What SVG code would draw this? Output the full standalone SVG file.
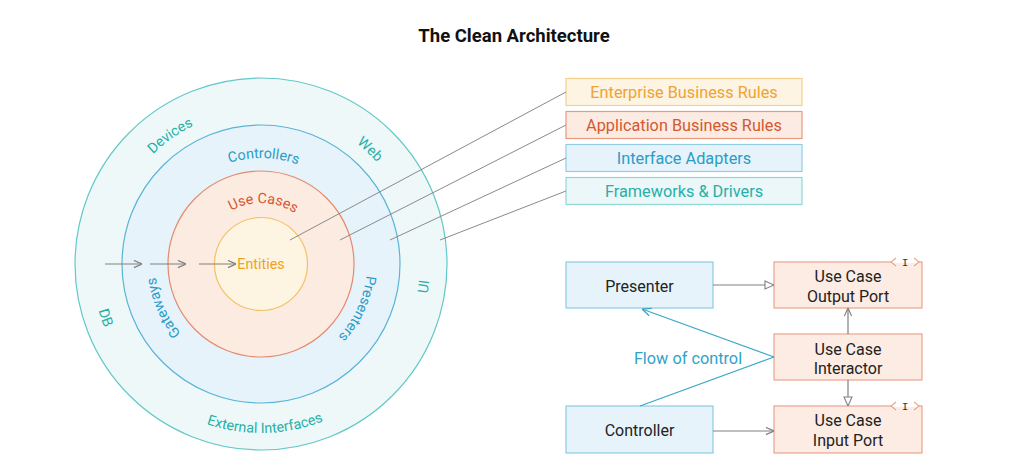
<svg xmlns="http://www.w3.org/2000/svg" width="1024" height="474" viewBox="0 0 1024 474">
<style>
text{font-family:Roboto,"Liberation Sans",sans-serif}
.title{font-size:18.5px;font-weight:bold;fill:#111}
.ring{font-size:14.3px}
.teal{fill:#26b0a8}
.blue{fill:#2b9cc7}
.red{fill:#d4592f}
.orange{fill:#f0a21e}
.leg{font-size:16.3px;text-anchor:middle}
.box{font-size:16px;fill:#222;text-anchor:middle}
.lead{stroke:#8a8a8a;stroke-width:1;fill:none}
.arr{stroke:#808080;stroke-width:1.2;fill:none}
.flow{stroke:#3aa7c9;stroke-width:1.2;fill:none}
.bb{fill:#e6f3fa;stroke:#8dcbe2;stroke-width:1.2}
.pb{fill:#fcece3;stroke:#e9a48c;stroke-width:1.2}
.tag{font-family:"Liberation Mono","DejaVu Sans Mono",monospace;font-size:11px;fill:#333;text-anchor:middle}
</style>
<defs>
<marker id="openV" viewBox="0 0 10 10" refX="10" refY="5" markerWidth="9" markerHeight="9" markerUnits="userSpaceOnUse" orient="auto"><path d="M1,1 L10,5 L1,9" fill="none" stroke="#808080" stroke-width="1.3"/></marker>
<marker id="openVT" viewBox="0 0 10 10" refX="10" refY="5" markerWidth="10" markerHeight="10" markerUnits="userSpaceOnUse" orient="auto"><path d="M1,1 L10,5 L1,9" fill="none" stroke="#3aa7c9" stroke-width="1.3"/></marker>
<marker id="tri" viewBox="0 0 10 10" refX="10" refY="5" markerWidth="10" markerHeight="10" markerUnits="userSpaceOnUse" orient="auto"><path d="M1,1 L10,5 L1,9 Z" fill="#fff" stroke="#808080" stroke-width="1.1"/></marker>
<path id="cwIn" d="M261,325 A61,61 0 0 1 261,203 A61,61 0 0 1 261,325"/>
<path id="cwMid" d="M261,370 A106,106 0 0 1 261,158 A106,106 0 0 1 261,370"/>
<path id="cwOut" d="M261,418 A154,154 0 0 1 261,110 A154,154 0 0 1 261,418"/>
<path id="ccwOut" d="M261,95 A169,169 0 0 0 261,433 A169,169 0 0 0 261,95"/>
</defs>
<rect width="1024" height="474" fill="#fff"/>
<text class="title" x="514" y="42" text-anchor="middle">The Clean Architecture</text>

<g id="frameworks-drivers">
<circle cx="261" cy="264" r="186" fill="#eef8f9" stroke="#62c8c8" stroke-width="1.2"/>
</g>
<g id="interface-adapters">
<circle cx="261" cy="264" r="139" fill="#e6f3fa" stroke="#5ab4d6" stroke-width="1.2"/>
</g>
<g id="use-cases">
<circle cx="261" cy="264" r="93" fill="#fcebe1" stroke="#e38b70" stroke-width="1.2"/>
</g>
<g id="entities">
<circle cx="261" cy="264" r="46.5" fill="#fdf4e2" stroke="#f2c265" stroke-width="1.2"/>
<text class="ring orange" x="261" y="269" text-anchor="middle">Entities</text>
</g>
<g id="ring-labels">
<text class="ring red" text-anchor="middle"><textPath href="#cwIn" startOffset="50.6%">Use Cases</textPath></text>
<text class="ring blue" text-anchor="middle"><textPath href="#cwMid" startOffset="50.4%">Controllers</textPath></text>
<text class="ring blue" text-anchor="middle"><textPath href="#cwMid" startOffset="18.3%">Gateways</textPath></text>
<text class="ring blue" text-anchor="middle"><textPath href="#cwMid" startOffset="81.9%">Presenters</textPath></text>
<text class="ring teal" text-anchor="middle"><textPath href="#cwOut" startOffset="40.2%">Devices</textPath></text>
<text class="ring teal" text-anchor="middle"><textPath href="#cwOut" startOffset="62.1%">Web</textPath></text>
<text class="ring teal" text-anchor="middle"><textPath href="#ccwOut" startOffset="30.3%">DB</textPath></text>
<text class="ring teal" text-anchor="middle"><textPath href="#ccwOut" startOffset="50.4%">External Interfaces</textPath></text>
<text class="ring teal" text-anchor="middle"><textPath href="#ccwOut" startOffset="72.8%">UI</textPath></text>
</g>

<g id="legend-enterprise">
<rect x="566" y="78.5" width="236" height="27" fill="#fdf4e3" stroke="#f6cf8c" stroke-width="1.2"/>
<text class="leg" x="684" y="97.5" fill="#f0a330">Enterprise Business Rules</text>
</g>
<g id="legend-application">
<rect x="566" y="111.5" width="236" height="27" fill="#fcebe2" stroke="#e9997d" stroke-width="1.2"/>
<text class="leg" x="684" y="130.5" fill="#d4592f">Application Business Rules</text>
</g>
<g id="legend-adapters">
<rect x="566" y="144.5" width="236" height="27" fill="#e6f3fa" stroke="#93cde3" stroke-width="1.2"/>
<text class="leg" x="684" y="163.5" fill="#2b9cc7">Interface Adapters</text>
</g>
<g id="legend-frameworks">
<rect x="566" y="177.5" width="236" height="27" fill="#ebf7f8" stroke="#8fd8d6" stroke-width="1.2"/>
<text class="leg" x="684" y="196.5" fill="#26b0a8">Frameworks &amp; Drivers</text>
</g>

<g id="presenter">
<rect class="bb" x="566" y="262" width="147" height="46"/>
<text class="box" x="639.5" y="291.5">Presenter</text>
</g>
<g id="controller">
<rect class="bb" x="566" y="406" width="147" height="47"/>
<text class="box" x="639.5" y="436">Controller</text>
</g>
<g id="output-port">
<rect class="pb" x="774" y="262" width="148" height="46"/>
<line x1="892" y1="262" x2="918" y2="262" stroke="#fff" stroke-width="2"/>
<polyline points="896,258 891,262 896,266" fill="none" stroke="#e9a48c" stroke-width="1.1"/>
<polyline points="914,258 919,262 914,266" fill="none" stroke="#e9a48c" stroke-width="1.1"/>
<text class="tag" x="905" y="266">I</text>
<text class="box" x="848" y="282">Use Case</text>
<text class="box" x="848" y="301.5">Output Port</text>
</g>
<g id="interactor">
<rect class="pb" x="774" y="334" width="148" height="46"/>
<text class="box" x="848" y="354.5">Use Case</text>
<text class="box" x="848" y="373.5">Interactor</text>
</g>
<g id="input-port">
<rect class="pb" x="774" y="406" width="148" height="47"/>
<line x1="892" y1="406" x2="918" y2="406" stroke="#fff" stroke-width="2"/>
<polyline points="896,402 891,406 896,410" fill="none" stroke="#e9a48c" stroke-width="1.1"/>
<polyline points="914,402 919,406 914,410" fill="none" stroke="#e9a48c" stroke-width="1.1"/>
<text class="tag" x="905" y="410">I</text>
<text class="box" x="848" y="426">Use Case</text>
<text class="box" x="848" y="446">Input Port</text>
</g>

<g id="connectors">
<line class="arr" x1="105" y1="264" x2="142" y2="264" marker-end="url(#openV)"/>
<line class="arr" x1="150" y1="264" x2="186" y2="264" marker-end="url(#openV)"/>
<line class="arr" x1="199" y1="264" x2="236" y2="264" marker-end="url(#openV)"/>
<line class="lead" x1="290" y1="240" x2="566" y2="92"/>
<line class="lead" x1="340" y1="240" x2="566" y2="125"/>
<line class="lead" x1="390" y1="240" x2="566" y2="158"/>
<line class="lead" x1="440" y1="240" x2="566" y2="191"/>
<line class="arr" x1="713" y1="285" x2="774" y2="285" marker-end="url(#tri)"/>
<line class="arr" x1="713" y1="431" x2="774" y2="431" marker-end="url(#openV)"/>
<line class="arr" x1="848" y1="334" x2="848" y2="308" marker-end="url(#openV)"/>
<line class="arr" x1="848" y1="380" x2="848" y2="406" marker-end="url(#tri)"/>
<line class="flow" x1="640" y1="406" x2="774" y2="357"/>
<line class="flow" x1="774" y1="357" x2="642" y2="309" marker-end="url(#openVT)"/>
<text x="688" y="363.5" text-anchor="middle" font-size="16.3" fill="#2ea3c9">Flow of control</text>
</g>
</svg>
